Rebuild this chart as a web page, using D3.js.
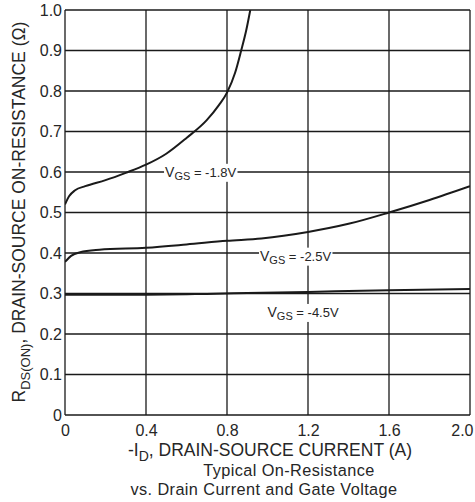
<!DOCTYPE html>
<html><head><meta charset="utf-8">
<script src="https://cdn.jsdelivr.net/npm/d3@7"></script>
<style>body{margin:0;background:#fff}svg{display:block;font-family:"Liberation Sans",Arial,sans-serif}</style>
</head><body><svg id="c" width="475" height="502"></svg>
<script>
const xTicks = [0, 0.4, 0.8, 1.2, 1.6, 2.0];
const yTicks = [0, 0.1, 0.2, 0.3, 0.4, 0.5, 0.6, 0.7, 0.8, 0.9, 1.0];
const vgs18 = [[0,0.52],[0.02,0.54],[0.05,0.555],[0.1,0.565],[0.2,0.58],[0.3,0.598],[0.4,0.618],[0.5,0.645],[0.6,0.684],[0.7,0.728],[0.76,0.765],[0.8,0.796],[0.84,0.845],[0.87,0.9],[0.895,0.95],[0.915,1.0]];
const vgs25 = [[0,0.378],[0.03,0.393],[0.075,0.402],[0.17,0.408],[0.4,0.413],[0.6,0.421],[0.8,0.43],[0.97,0.436],[1.2,0.452],[1.4,0.472],[1.6,0.5],[1.8,0.531],[2.0,0.565]];
const vgs45 = [[0,0.297],[0.15,0.297],[0.4,0.297],[0.7,0.299],[0.9,0.301],[1.2,0.304],[1.6,0.308],[2.0,0.311]];
const labels = [
  {v:"-1.8V", x:0.494, y:0.598},
  {v:"-2.5V", x:0.963, y:0.391},
  {v:"-4.5V", x:1.0, y:0.252}
];

const svg = d3.select("#c");
const L=65, R=470, T=10, B=415;
const x = d3.scaleLinear().domain([0,2]).range([L,R]);
const y = d3.scaleLinear().domain([0,1]).range([B,T]);
const ink = "#1a1a1a", txt = "#262626";

// grid
svg.append("g").selectAll("line").data(xTicks).join("line")
  .attr("x1",d=>x(d)).attr("x2",d=>x(d)).attr("y1",T).attr("y2",B)
  .attr("stroke",ink).attr("stroke-width",1.3);
svg.append("g").selectAll("line").data(yTicks).join("line")
  .attr("x1",L).attr("x2",R).attr("y1",d=>y(d)).attr("y2",d=>y(d))
  .attr("stroke",ink).attr("stroke-width",1.3);

// axes tick labels
const fmt = d=>d===0?"0":d3.format(".1f")(d);
const xAxis = d3.axisBottom(x).tickValues(xTicks).tickSize(0).tickFormat(fmt);
const gx = svg.append("g").attr("transform",`translate(0,${B})`).call(xAxis);
gx.select(".domain").remove();
gx.selectAll("text").attr("font-size",16).attr("fill",txt).attr("dy",0).attr("y",21)
  .attr("text-anchor",d=>d===2?"end":"middle").attr("dx",d=>d===2?3:0);
const yAxis = d3.axisLeft(y).tickValues(yTicks).tickSize(0).tickFormat(fmt);
const gy = svg.append("g").attr("transform",`translate(${L},0)`).call(yAxis);
gy.select(".domain").remove();
gy.selectAll("text").attr("font-size",16).attr("fill",txt).attr("x",-3);

// curves
const line = d3.line().x(d=>x(d[0])).y(d=>y(d[1])).curve(d3.curveMonotoneX);
svg.append("defs").append("clipPath").attr("id","clip").append("rect")
  .attr("x",L).attr("y",T).attr("width",R-L).attr("height",B-T);
const cg = svg.append("g").attr("clip-path","url(#clip)");
[vgs18,vgs25,vgs45].forEach(s=>{
  cg.append("path").datum(s).attr("d",line).attr("fill","none")
    .attr("stroke",ink).attr("stroke-width",2);
});

// curve labels
labels.forEach(l=>{
  const g = svg.append("g");
  const t = g.append("text").attr("x",x(l.x)).attr("y",y(l.y)+4).attr("font-size",13)
    .attr("fill",txt);
  t.append("tspan").text("V").attr("font-size",14);
  t.append("tspan").text("GS").attr("font-size",11).attr("dy",3);
  t.append("tspan").text(" = "+l.v).attr("dy",-3);
  const bb = t.node().getBBox();
  g.insert("rect","text").attr("x",bb.x-1).attr("y",bb.y).attr("width",bb.width+2).attr("height",bb.height).attr("fill","#fff");
});

// x title
const xt = svg.append("text").attr("x",270).attr("y",456).attr("text-anchor","middle")
  .attr("font-size",17.5).attr("fill",txt);
xt.append("tspan").text("-I");
xt.append("tspan").text("D").attr("font-size",14).attr("dy",5);
xt.append("tspan").text(", DRAIN-SOURCE CURRENT (A)").attr("dy",-5);
svg.append("text").attr("x",289).attr("y",476).attr("text-anchor","middle")
  .attr("font-size",16.3).attr("letter-spacing",0.4).attr("fill",txt).text("Typical On-Resistance");
svg.append("text").attr("x",264).attr("y",495).attr("text-anchor","middle")
  .attr("font-size",16.3).attr("letter-spacing",0.4).attr("fill",txt).text("vs. Drain Current and Gate Voltage");

// y title
const yt = svg.append("text").attr("transform","translate(25,212) rotate(-90)")
  .attr("text-anchor","middle").attr("font-size",17.5).attr("fill",txt);
yt.append("tspan").text("R");
yt.append("tspan").text("DS(ON)").attr("font-size",13).attr("dy",5);
yt.append("tspan").text(", DRAIN-SOURCE ON-RESISTANCE (Ω)").attr("dy",-5);
</script></body></html>
